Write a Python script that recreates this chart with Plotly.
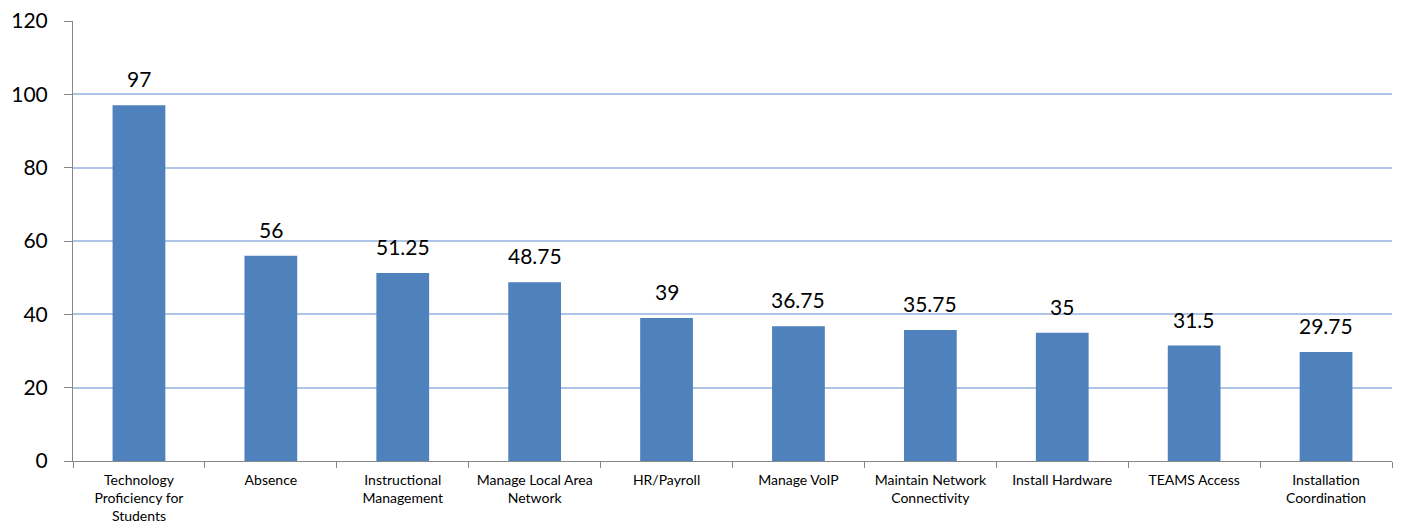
import plotly.graph_objects as go

categories = [
    "Technology<br>Proficiency for<br>Students",
    "Absence",
    "Instructional<br>Management",
    "Manage Local Area<br>Network",
    "HR/Payroll",
    "Manage VoIP",
    "Maintain Network<br>Connectivity",
    "Install Hardware",
    "TEAMS Access",
    "Installation<br>Coordination",
]
values = [97, 56, 51.25, 48.75, 39, 36.75, 35.75, 35, 31.5, 29.75]
value_labels = ["97", "56", "51.25", "48.75", "39", "36.75", "35.75", "35", "31.5", "29.75"]
y_ticks = [0, 20, 40, 60, 80, 100, 120]

fig = go.Figure(
    go.Bar(
        x=categories,
        y=values,
        marker=dict(color="#4F81BD", line=dict(width=0)),
        hoverinfo="skip",
    )
)

for c, v, t in zip(categories, values, value_labels):
    fig.add_annotation(
        x=c, y=v, text=t, showarrow=False,
        yanchor="bottom", yshift=12,
        font=dict(size=21, color="#000000"),
    )

fig.update_layout(
    width=1402,
    height=527,
    margin=dict(l=65, r=18, t=13, b=74),
    paper_bgcolor="white",
    plot_bgcolor="white",
    font=dict(family="Lato, Carlito, Liberation Sans, sans-serif", color="#000000"),
    bargap=0.6,
    showlegend=False,
)

fig.update_xaxes(
    type="category",
    automargin=False,
    showline=True,
    linecolor="#868686",
    linewidth=1,
    ticks="outside",
    tickson="boundaries",
    ticklen=6,
    tickcolor="#868686",
    tickfont=dict(size=14),
    ticklabelstandoff=6,
    ticklabeloverflow="allow",
    showgrid=False,
)

fig.update_yaxes(
    range=[0, 120],
    automargin=False,
    tickvals=y_ticks,
    showline=True,
    linecolor="#868686",
    linewidth=1,
    ticks="outside",
    ticklen=8,
    tickcolor="#868686",
    tickfont=dict(size=21),
    ticklabelstandoff=12,
    ticklabeloverflow="allow",
    showgrid=True,
    gridcolor="#AFC5E8",
    gridwidth=1.5,
    zeroline=False,
)

fig.write_html("out.html")
